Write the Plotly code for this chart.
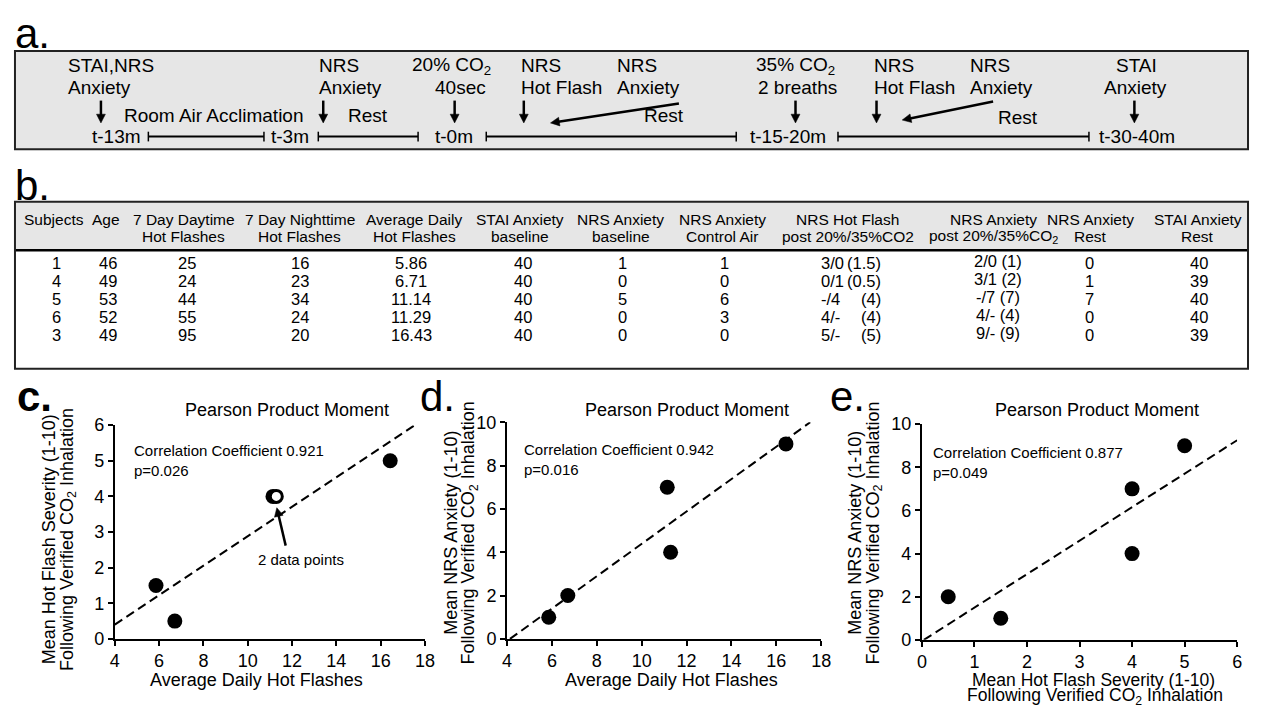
import numpy as np
import plotly.graph_objects as go

# The page keeps the browser's default 8px body margin, so the figure is made
# 16px smaller than the window and every reference pixel is shifted by 8.
OFF = 8
FW, FH = 1267 - 2 * OFF, 722 - 2 * OFF
FONT = "Arial, 'Liberation Sans', Helvetica, sans-serif"


def X(px):
    return (px - OFF) / FW


def Y(py):
    return 1 - (py - OFF) / FH


# ---------------- data ----------------
subjects = ["1", "4", "5", "6", "3"]
age = [46, 49, 53, 52, 49]
daytime_hf = [25, 24, 44, 55, 95]
nighttime_hf = [16, 23, 34, 24, 20]
avg_daily_hf = [5.86, 6.71, 11.14, 11.29, 16.43]
stai_baseline = [40, 40, 40, 40, 40]
nrs_baseline = [1, 0, 5, 0, 0]
nrs_control_air = [1, 0, 6, 3, 0]
hf_post_scores = ["3/0", "0/1", "-/4", "4/-", "5/-"]
hf_post_mean = [1.5, 0.5, 4, 4, 5]
anx_post_scores = ["2/0", "3/1", "-/7", "4/-", "9/-"]
anx_post_mean = [1, 2, 7, 4, 9]
nrs_rest = [0, 1, 7, 0, 0]
stai_rest = [40, 39, 40, 40, 39]

table_headers = [("Subjects", ""), ("Age", ""), ("7 Day Daytime", "Hot Flashes"),
                 ("7 Day Nighttime", "Hot Flashes"), ("Average Daily", "Hot Flashes"),
                 ("STAI Anxiety", "baseline"), ("NRS Anxiety", "baseline"), ("NRS Anxiety", "Control Air"),
                 ("NRS Hot Flash", "post 20%/35%CO2"), ("NRS Anxiety", "post 20%/35%CO<sub>2</sub>"),
                 ("NRS Anxiety", "Rest"), ("STAI Anxiety", "Rest")]

corr_texts = ["Correlation Coefficient 0.921<br>p=0.026",
              "Correlation Coefficient 0.942<br>p=0.016",
              "Correlation Coefficient 0.877<br>p=0.049"]

fig = go.Figure()
shapes = []
ann = []


def text(x, y, s, size, xanchor="left", yanchor="middle", angle=0, **kw):
    ann.append(dict(x=X(x), y=Y(y), xref="paper", yref="paper", text=s, showarrow=False,
                    xanchor=xanchor, yanchor=yanchor, textangle=angle,
                    font=dict(family=FONT, size=size, color="black"), **kw))


def pline(x0, y0, x1, y1, width=2, color="black"):
    shapes.append(dict(type="line", xref="paper", yref="paper", x0=X(x0), x1=X(x1), y0=Y(y0), y1=Y(y1),
                       line=dict(color=color, width=width)))


def arrow(tx, ty, hx, hy, width=2.5, head=9, half=4.5):
    d = np.hypot(hx - tx, hy - ty)
    ux, uy = (hx - tx) / d, (hy - ty) / d
    bx, by = hx - ux * head, hy - uy * head
    pline(tx, ty, bx + ux, by + uy, width)
    px, py = -uy, ux
    pts = [(hx, hy), (bx + px * half, by + py * half), (bx - px * half, by - py * half)]
    path = "M " + " L ".join(f"{X(a):.5f},{Y(b):.5f}" for a, b in pts) + " Z"
    shapes.append(dict(type="path", xref="paper", yref="paper", path=path, fillcolor="black",
                       line=dict(color="black", width=0.5)))


# ---------------- panel a: timeline ----------------
text(8, 24, "a.", 42)
shapes.append(dict(type="rect", xref="paper", yref="paper", x0=X(10), x1=X(1258), y0=Y(42), y1=Y(143),
                   fillcolor="#e6e6e6", line=dict(color="#222", width=2)))
TS = 19
timeline_labels = [
    (62, 57, "STAI,NRS"), (62, 80, "Anxiety"), (118, 108, "Room Air Acclimation"), (86, 130, "t-13m"),
    (267, 130, "t-3m"), (316, 57, "NRS"), (316, 80, "Anxiety"), (345, 108, "Rest"),
    (410, 57, "20% CO<sub>2</sub>"), (433, 80, "40sec"), (433, 130, "t-0m"),
    (520, 57, "NRS"), (520, 80, "Hot Flash"), (617, 57, "NRS"), (617, 80, "Anxiety"), (645, 108, "Rest"),
    (758, 57, "35% CO<sub>2</sub>"), (760, 80, "2 breaths"), (752, 130, "t-15-20m"),
    (877, 57, "NRS"), (877, 80, "Hot Flash"), (975, 57, "NRS"), (975, 80, "Anxiety"), (1003, 110, "Rest"),
    (1122, 57, "STAI"), (1110, 80, "Anxiety"), (1105, 130, "t-30-40m"),
]
for x, y, s in timeline_labels:
    text(x, y, s, TS)

for x0, x1 in [(145, 262), (317, 418), (487, 740), (843, 1097)]:
    pline(x0, 130, x1, 130, 2)
    for xe in (x0, x1):
        pline(xe, 125, xe, 135, 1.5)

for x in [97, 322, 455, 525, 800, 882, 1143]:
    arrow(x, 93, x, 116)
arrow(682, 96, 552, 116)
arrow(1000, 94, 908, 113)

# ---------------- panel b: table ----------------
text(8, 180, "b.", 42)
shapes.append(dict(type="rect", xref="paper", yref="paper", x0=X(10), x1=X(1258), y0=Y(197), y1=Y(369),
                   fillcolor="white", line=dict(width=0)))
shapes.append(dict(type="rect", xref="paper", yref="paper", x0=X(10), x1=X(1258), y0=Y(197), y1=Y(247),
                   fillcolor="#e6e6e6", line=dict(width=0)))
pline(10, 247, 1258, 247, 2.5)
shapes.append(dict(type="rect", xref="paper", yref="paper", x0=X(10), x1=X(1258), y0=Y(197), y1=Y(369),
                   line=dict(color="#222", width=2)))

header_x = [50, 102, 181, 298, 414, 521, 623, 726, 853, 1000, 1099, 1207]
for hx, (h1, h2) in zip(header_x, table_headers):
    text(hx, 215, h1, 15.5, xanchor="center")
    if h2:
        text(hx, 233, h2, 15.5, xanchor="center")

row_y = [260, 278.5, 297, 315.5, 334]
DS = 16.5
simple_cols = [(subjects, 52), (age, 104), (daytime_hf, 184), (nighttime_hf, 298), (avg_daily_hf, 411),
               (stai_baseline, 524), (nrs_baseline, 625), (nrs_control_air, 728), (nrs_rest, 1098),
               (stai_rest, 1208)]
for vals, cx in simple_cols:
    for ry, v in zip(row_y, vals):
        s = f"{v:.2f}" if isinstance(v, float) else str(v)
        text(cx, ry, s, DS, xanchor="center")
for ry, sc, m in zip(row_y, hf_post_scores, hf_post_mean):
    text(824, ry, sc, DS, xanchor="left")
    text(889, ry, f"({m:g})", DS, xanchor="right")
for ry, sc, m in zip(row_y, anx_post_scores, anx_post_mean):
    text(1005, ry - 2, f"{sc} ({m:g})", DS, xanchor="center")

# ---------------- panels c, d, e: scatter ----------------
panels = [
    dict(lab="<b>c.</b>", labx=10, x=avg_daily_hf, y=hf_post_mean, xr=[4, 18], yr=[0, 6], dx=2, dy=1,
         px=(111, 425), py=(647, 427), open_idx=[3],
         ytitle=("Mean Hot Flash Severity (1-10)", "Following Verified CO<sub>2</sub> Inhalation"),
         ytx=(44, 64), yty=545, title_x=285, corr=(128, 463)),
    dict(lab="d.", labx=418, x=avg_daily_hf, y=anx_post_mean, xr=[4, 18], yr=[0, 10], dx=2, dy=2,
         px=(508, 826), py=(647, 424), open_idx=[],
         ytitle=("Mean NRS Anxiety (1-10)", "Following Verified CO<sub>2</sub> Inhalation"),
         ytx=(451, 471), yty=538, title_x=690, corr=(523, 462)),
    dict(lab="e.", labx=833, x=hf_post_mean, y=anx_post_mean, xr=[0, 6], yr=[0, 10], dx=1, dy=2,
         px=(928, 1247), py=(648, 426), open_idx=[],
         ytitle=("Mean NRS Anxiety (1-10)", "Following Verified CO<sub>2</sub> Inhalation"),
         ytx=(860, 880), yty=538, title_x=1105, corr=(937, 465)),
]


def fit_segment(xs, ys, xr, yr):
    m, b = np.polyfit(xs, ys, 1)
    xa, xb = (yr[0] - b) / m, (yr[1] - b) / m
    lo = max(xr[0], min(xa, xb))
    hi = min(xr[1], max(xa, xb))
    return [lo, hi], [m * lo + b, m * hi + b]


axis_style = dict(showline=True, linecolor="black", linewidth=2, ticks="outside", ticklen=5,
                  tickwidth=2, tickcolor="black", showgrid=False, zeroline=False,
                  tickfont=dict(family=FONT, size=18, color="black"), fixedrange=True)

for i, p in enumerate(panels, start=1):
    xa = "x" if i == 1 else f"x{i}"
    ya = "y" if i == 1 else f"y{i}"
    fx, fy = fit_segment(p["x"], p["y"], p["xr"], p["yr"])
    fig.add_trace(go.Scatter(x=fx, y=fy, mode="lines", xaxis=xa, yaxis=ya, showlegend=False,
                             line=dict(color="black", width=2, dash="9px,5px"), hoverinfo="skip"))
    filled = [k for k in range(len(p["x"])) if k not in p["open_idx"]]
    fig.add_trace(go.Scatter(x=[p["x"][k] for k in filled], y=[p["y"][k] for k in filled], mode="markers",
                             xaxis=xa, yaxis=ya, showlegend=False,
                             marker=dict(size=15, color="black", line=dict(width=0))))
    if p["open_idx"]:
        fig.add_trace(go.Scatter(x=[p["x"][k] for k in p["open_idx"]], y=[p["y"][k] for k in p["open_idx"]],
                                 mode="markers", xaxis=xa, yaxis=ya, showlegend=False,
                                 marker=dict(size=12, color="white", line=dict(width=3, color="black"))))
    fig.layout[f"xaxis{'' if i == 1 else i}"] = dict(
        domain=[X(p["px"][0]), X(p["px"][1])], range=p["xr"], dtick=p["dx"], tick0=0, anchor=ya, **axis_style)
    fig.layout[f"yaxis{'' if i == 1 else i}"] = dict(
        domain=[Y(p["py"][0]), Y(p["py"][1])], range=p["yr"], dtick=p["dy"], tick0=0, anchor=xa, **axis_style)

    text(p["labx"], 398, p["lab"], 42)
    text(p["title_x"], 411, "Pearson Product Moment", 18, xanchor="center")
    text(p["corr"][0], p["corr"][1], corr_texts[i - 1], 15, align="left")
    text(p["ytx"][0], p["yty"], p["ytitle"][0], 18, xanchor="center", angle=-90)
    text(p["ytx"][1], p["yty"], p["ytitle"][1], 18, xanchor="center", angle=-90)

text(254, 689, "Average Daily Hot Flashes", 18, xanchor="center")
text(674, 689, "Average Daily Hot Flashes", 18, xanchor="center")
text(1102, 689, "Mean Hot Flash Severity (1-10)", 17.5, xanchor="center")
text(1103, 706.5, "Following Verified CO<sub>2</sub> Inhalation", 17.5, xanchor="center")

# "2 data points" callout in panel c
text(299, 565, "2 data points", 15, xanchor="center")
arrow(284, 551, 275, 512)

fig.update_layout(width=FW, height=FH, autosize=False, margin=dict(l=0, r=0, t=0, b=0),
                  paper_bgcolor="white", plot_bgcolor="rgba(0,0,0,0)", shapes=shapes, annotations=ann,
                  font=dict(family=FONT, color="black"))

fig.write_html("out.html", config={"displayModeBar": False})
